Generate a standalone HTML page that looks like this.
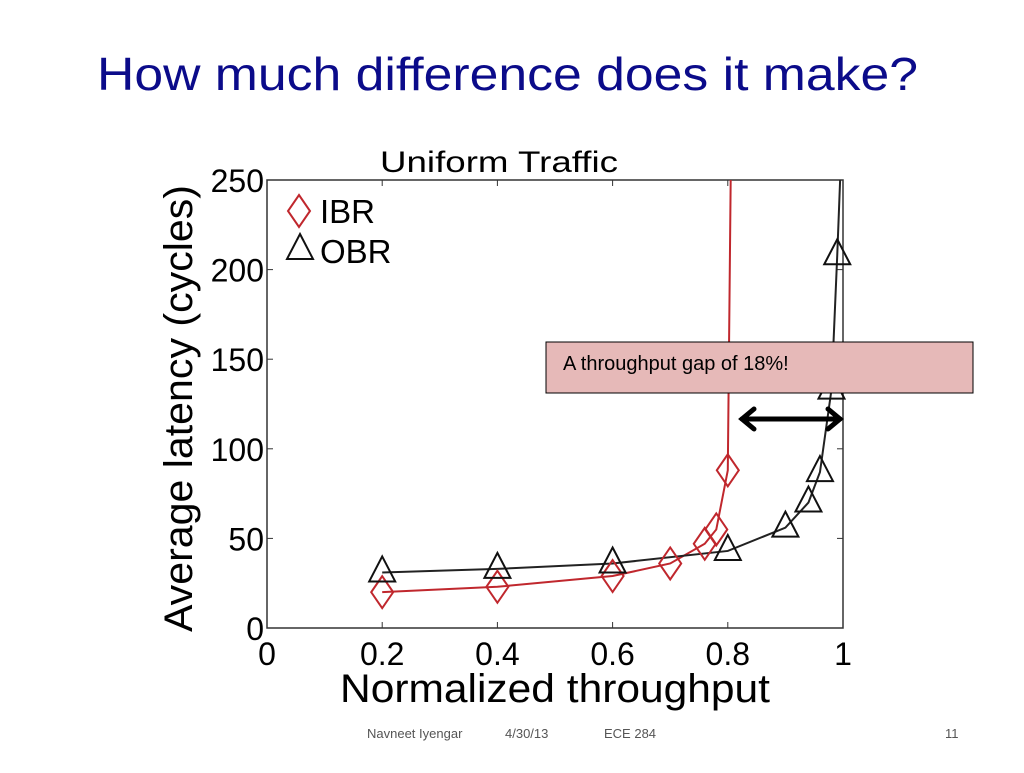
<!DOCTYPE html>
<html><head><meta charset="utf-8"><style>
body{margin:0;width:1024px;height:768px;background:#fff;overflow:hidden;font-family:"Liberation Sans",sans-serif}
</style></head><body>
<svg width="1024" height="768">
<text x="97" y="90" font-size="46" fill="#0b0b8a" textLength="821" lengthAdjust="spacingAndGlyphs" font-family="Liberation Sans, sans-serif">How much difference does it make?</text>
<text x="380" y="172" font-size="30" fill="#000" textLength="238" lengthAdjust="spacingAndGlyphs">Uniform Traffic</text>
<g id="plot"></g>
<rect x="546" y="342" width="427" height="51" fill="#e6b9b8" stroke="#000" stroke-width="1"/>
<text x="563" y="370" font-size="20" fill="#000">A throughput gap of 18%!</text>
<g stroke="#000" stroke-width="5" fill="none" stroke-linecap="round">
<line x1="742" y1="419" x2="840" y2="419"/>
<polyline points="754,409 742,419 754,429"/>
<polyline points="828,409 840,419 828,429"/>
</g>
<text x="367" y="738" font-size="13" fill="#555">Navneet Iyengar</text>
<text x="505" y="738" font-size="13" fill="#555">4/30/13</text>
<text x="604" y="738" font-size="13" fill="#555">ECE 284</text>
<text x="945" y="738" font-size="13" fill="#555">11</text>
</svg>
<script>
const ibrX=[0.2,0.4,0.6,0.7,0.76,0.78,0.8];
const ibrY=[20,23,29,36,47,55,88];
const obrX=[0.2,0.4,0.6,0.8,0.9,0.94,0.96,0.98,0.99];
const obrY=[31,33,36,43,56,70,87,133,208];
const xTicks=[0,0.2,0.4,0.6,0.8,1];
const yTicks=[0,50,100,150,200,250];
const L=267,R=843,T=180,B=628;
const sx=v=>L+v*(R-L), sy=v=>B-v/250*(B-T);
const NS="http://www.w3.org/2000/svg";
const g=document.getElementById('plot');
function mk(t,a){const e=document.createElementNS(NS,t);for(const k in a)e.setAttribute(k,a[k]);g.appendChild(e);return e;}
let ax=mk('rect',{x:L,y:T,width:R-L,height:B-T,fill:'none',stroke:'#333','stroke-width':1.5});


xTicks.forEach(v=>{
 mk('line',{x1:sx(v),x2:sx(v),y1:B,y2:B-6,stroke:'#333'});
 mk('line',{x1:sx(v),x2:sx(v),y1:T,y2:T+6,stroke:'#333'});
 const t=mk('text',{x:sx(v),y:B+37,'font-size':32,'text-anchor':'middle',fill:'#000'});
 t.textContent=v===0||v===1?String(v):v.toFixed(1);
 
 
});
yTicks.forEach(v=>{
 mk('line',{x1:L,x2:L+6,y1:sy(v),y2:sy(v),stroke:'#333'});
 mk('line',{x1:R,x2:R-6,y1:sy(v),y2:sy(v),stroke:'#333'});
 const t=mk('text',{x:L-3,y:sy(v)+12,'font-size':32,'text-anchor':'end',fill:'#000'});
 t.textContent=v;
 
 
});
let xt=mk('text',{x:340,y:702,'font-size':40,fill:'#000',textLength:430,lengthAdjust:'spacingAndGlyphs'});
xt.textContent='Normalized throughput';


let yt=mk('text',{x:0,y:0,'font-size':40,fill:'#000',textLength:447,lengthAdjust:'spacingAndGlyphs',transform:'translate(192 632) rotate(-90)'});
yt.textContent='Average latency (cycles)';


function line(xs,ys,endX,col,name){
 let p=xs.map((x,i)=>sx(x)+','+sy(ys[i]));
 p.push(sx(endX)+','+sy(250));
 const e=mk('polyline',{points:p.join(' '),fill:'none',stroke:col,'stroke-width':2});
 
 
}
line(ibrX,ibrY,0.805,'#c0272d','ibr-line');
line(obrX,obrY,0.995,'#222','obr-line');
function diamond(cx,cy,col){return mk('polygon',{points:`${cx},${cy-16} ${cx+11},${cy} ${cx},${cy+16} ${cx-11},${cy}`,fill:'none',stroke:col,'stroke-width':2});}
function tri(cx,cy,col){return mk('polygon',{points:`${cx},${cy-16} ${cx+13},${cy+9} ${cx-13},${cy+9}`,fill:'none',stroke:col,'stroke-width':2});}
ibrX.forEach((x,i)=>{const e=diamond(sx(x),sy(ibrY[i]),'#c0272d');
 
 });
obrX.forEach((x,i)=>{const e=tri(sx(x),sy(obrY[i]),'#111');
 
 });
let d=diamond(299,211,'#c0272d');


let l1=mk('text',{x:320,y:223,'font-size':33,fill:'#000'});l1.textContent='IBR';


let tr=tri(300,250,'#111');


let l2=mk('text',{x:320,y:263,'font-size':33,fill:'#000'});l2.textContent='OBR';


</script>
</body></html>
